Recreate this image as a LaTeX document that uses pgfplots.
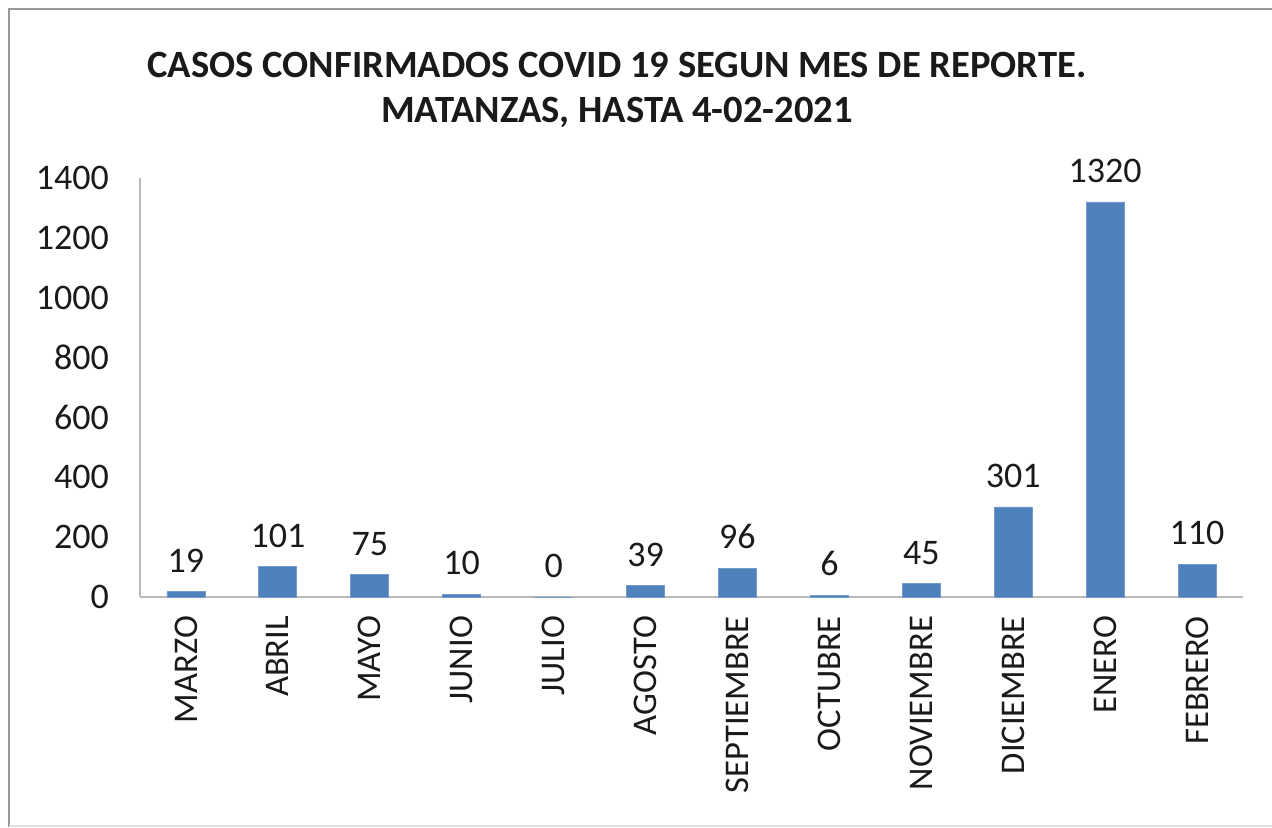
\documentclass[border=0pt]{standalone}
\usepackage{pgfplots}
\pgfplotsset{compat=1.18}
\usepackage{fontspec}
\setmainfont{Carlito}
\definecolor{barblue}{HTML}{4F81BD}
\definecolor{txt}{HTML}{1A1A1A}
\begin{document}
\begin{tikzpicture}
\begin{scope}[x=0.5pt,y=-0.5pt]
\useasboundingbox (0,0) rectangle (1272,827);
\draw[draw=gray!80, line width=1.2pt] (9,827) -- (9,9) -- (1272,9);
\draw[draw=gray!25, line width=0.8pt] (9,826) -- (1272,826);
\node[font=\fontsize{19.3}{21.5}\selectfont\bfseries, text=txt, align=center] at (617,90)
  {CASOS CONFIRMADOS COVID 19 SEGUN MES DE REPORTE.\\[1pt] MATANZAS, HASTA 4-02-2021};
\end{scope}
\begin{axis}[
  at={(70pt,-298.5pt)}, anchor=south west,
  scale only axis, width=551.5pt, height=209.5pt,
  ymin=0, ymax=1400, ytick={0,200,...,1400},
  xmin=-0.5, xmax=11.5,
  xtick={0,...,11},
  xticklabels={MARZO,ABRIL,MAYO,JUNIO,JULIO,AGOSTO,SEPTIEMBRE,OCTUBRE,NOVIEMBRE,DICIEMBRE,ENERO,FEBRERO},
  x tick label style={rotate=90, anchor=east, xshift=-6pt, font=\fontsize{17.3}{18}\selectfont},
  y tick label style={xshift=-12pt, font=\fontsize{18}{19}\selectfont},
  axis x line=bottom, axis y line=left,
  axis line style={-, draw=gray!55, line width=1pt},
  major tick length=0pt,
  tick label style={text=txt},
  /pgf/number format/assume math mode=true,
  /pgf/number format/1000 sep={},
  nodes near coords,
  every node near coord/.append style={font=\fontsize{18}{19}\selectfont, text=txt, anchor=south, yshift=6pt},
  clip=false,
]
\addplot[ybar, bar width=19pt, fill=barblue, draw=barblue!80!white] coordinates {
(0,19) (1,101) (2,75) (3,10) (4,0) (5,39) (6,96) (7,6) (8,45) (9,301) (10,1320) (11,110)};
\end{axis}
\end{tikzpicture}
\end{document}
